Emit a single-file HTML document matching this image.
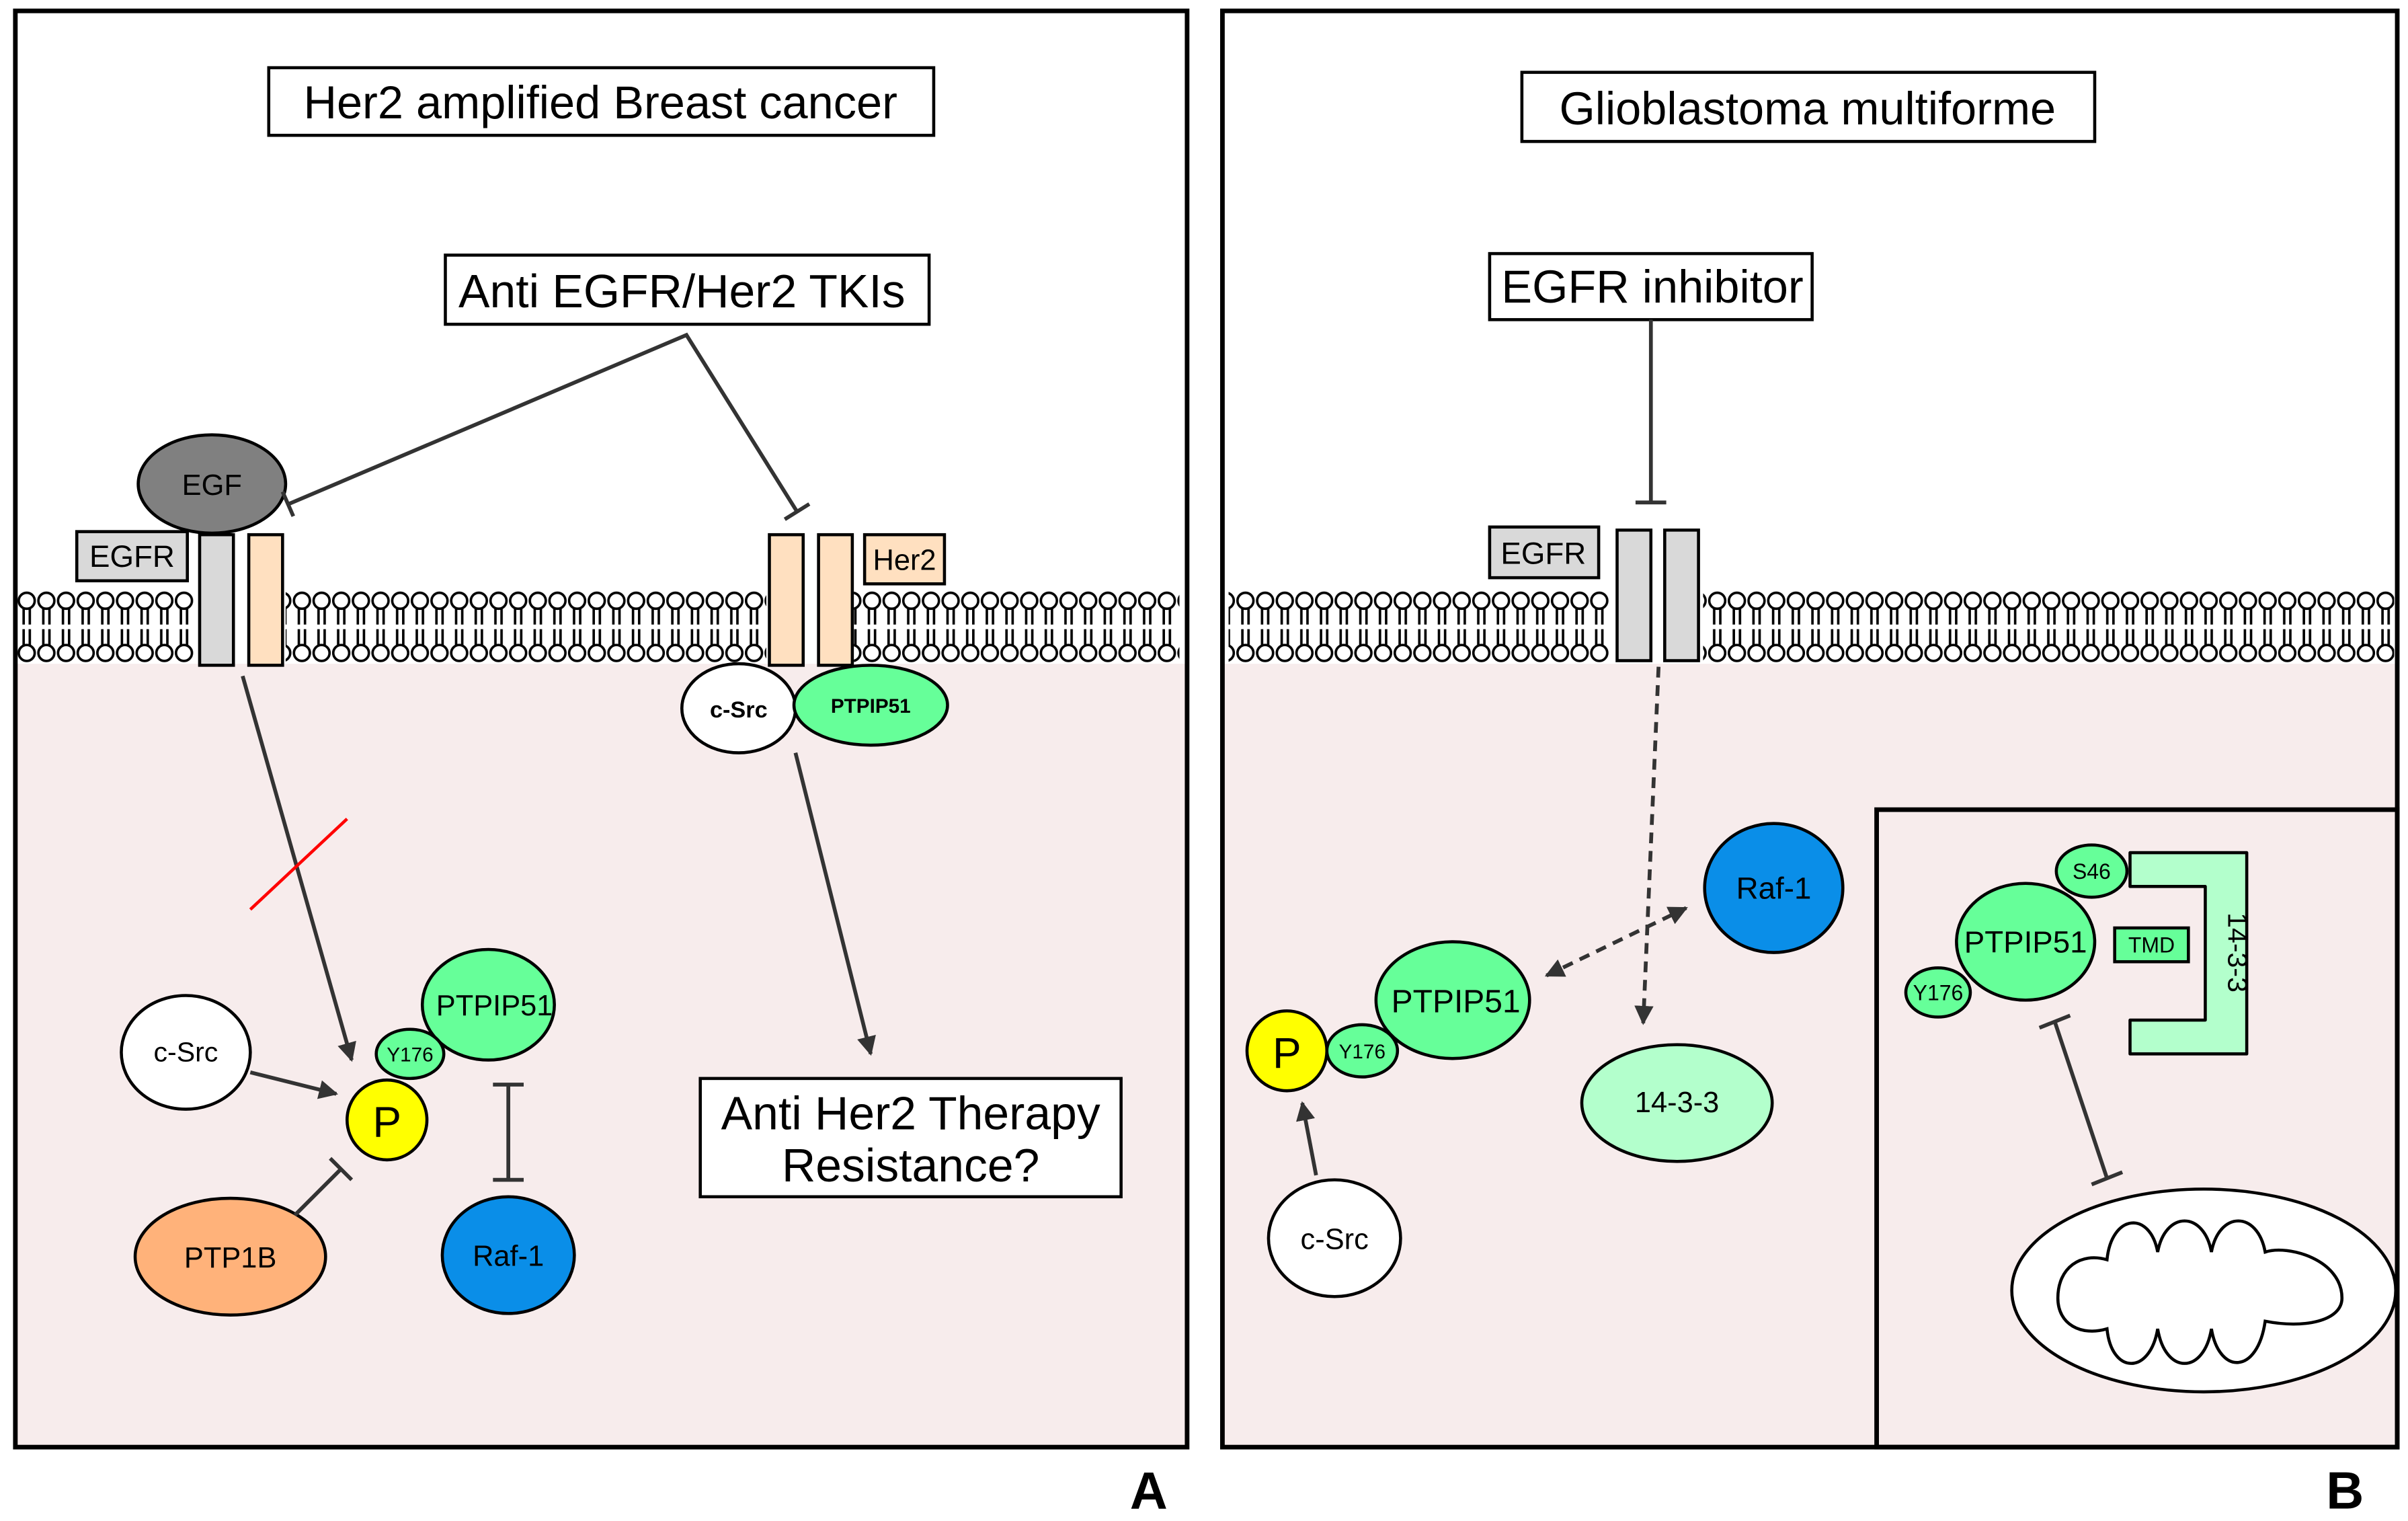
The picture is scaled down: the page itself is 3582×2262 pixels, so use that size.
<!DOCTYPE html><html><head><style>html,body{margin:0;padding:0;background:#fff}svg{display:block}</style></head><body>
<svg width="3582" height="2262" viewBox="0 0 1568 990" xmlns="http://www.w3.org/2000/svg" font-family="Liberation Sans, sans-serif">
<defs>
<marker id="ar" viewBox="0 0 10 10" refX="9" refY="5" markerWidth="5" markerHeight="5" orient="auto-start-reverse"><path d="M0,0L10,5L0,10z" fill="#333"/></marker>
<pattern id="lip" x="11" y="0" width="12.8" height="990" patternUnits="userSpaceOnUse">
<g stroke="#000" stroke-width="1.6" fill="#fff">
<line x1="4.4" y1="396" x2="4.4" y2="406.5"/><line x1="8.4" y1="396" x2="8.4" y2="406.5"/>
<line x1="4.4" y1="409.5" x2="4.4" y2="420"/><line x1="8.4" y1="409.5" x2="8.4" y2="420"/>
<circle cx="6.4" cy="391" r="5.2"/><circle cx="6.4" cy="425" r="5.2"/>
</g></pattern>
</defs>
<rect width="1568" height="990" fill="#fff"/>
<rect x="10" y="432" width="763" height="510" fill="#f7ecec"/>
<rect x="796" y="432" width="765" height="510" fill="#f7ecec"/>
<rect x="11" y="384" width="115" height="48" fill="url(#lip)"/>
<rect x="186" y="384" width="313" height="48" fill="url(#lip)"/>
<rect x="556" y="384" width="212" height="48" fill="url(#lip)"/>
<rect x="800" y="384" width="248" height="48" fill="url(#lip)"/>
<rect x="1109" y="384" width="450" height="48" fill="url(#lip)"/>
<rect x="10" y="7" width="763" height="935" fill="none" stroke="#000" stroke-width="3"/>
<rect x="796" y="7" width="765" height="935" fill="none" stroke="#000" stroke-width="3"/>
<rect x="1222" y="527" width="339" height="415" fill="none" stroke="#000" stroke-width="3"/>
<g stroke="#000" stroke-width="2">
<rect x="175" y="44" width="433" height="44" fill="#fff"/>
<rect x="290" y="166" width="315" height="45" fill="#fff"/>
<rect x="50" y="346" width="72" height="32" fill="#d9d9d9"/>
<rect x="130" y="348" width="22" height="85" fill="#d9d9d9"/>
<rect x="162" y="348" width="22" height="85" fill="#ffe0c0"/>
<rect x="501" y="348" width="22" height="85" fill="#ffe0c0"/>
<rect x="533" y="348" width="22" height="85" fill="#ffe0c0"/>
<rect x="563" y="348" width="52" height="32" fill="#ffe0c0"/>
<ellipse cx="138" cy="315" rx="48" ry="32" fill="#808080"/>
<ellipse cx="481" cy="461" rx="37" ry="29" fill="#fff"/>
<ellipse cx="567" cy="459" rx="50" ry="26" fill="#66ff99"/>
<rect x="456" y="702" width="274" height="77" fill="#fff"/>
<ellipse cx="121" cy="685" rx="42" ry="37" fill="#fff"/>
<ellipse cx="318" cy="654" rx="43" ry="36" fill="#66ff99"/>
<ellipse cx="267" cy="686" rx="22" ry="16" fill="#66ff99"/>
<circle cx="252" cy="729" r="26" fill="#ffff00"/>
<ellipse cx="331" cy="817" rx="43" ry="38" fill="#0a8ee8"/>
<ellipse cx="150" cy="818" rx="62" ry="38" fill="#ffb27a"/>
<rect x="991" y="47" width="373" height="45" fill="#fff"/>
<rect x="970" y="165" width="210" height="43" fill="#fff"/>
<rect x="970" y="343" width="71" height="33" fill="#d9d9d9"/>
<rect x="1053" y="345" width="22" height="85" fill="#d9d9d9"/>
<rect x="1084" y="345" width="22" height="85" fill="#d9d9d9"/>
<ellipse cx="1155" cy="578" rx="45" ry="42" fill="#0a8ee8"/>
<ellipse cx="946" cy="651" rx="50" ry="38" fill="#66ff99"/>
<ellipse cx="887" cy="684" rx="23" ry="17" fill="#66ff99"/>
<circle cx="838" cy="684" r="26" fill="#ffff00"/>
<ellipse cx="869" cy="806" rx="43" ry="38" fill="#fff"/>
<ellipse cx="1092" cy="718" rx="62" ry="38" fill="#b3ffcc"/>
<path d="M1387,555H1463V686H1387V664H1436V577H1387Z" fill="#b3ffcc" stroke-linejoin="round"/>
<ellipse cx="1319" cy="613" rx="45" ry="38" fill="#66ff99"/>
<ellipse cx="1362" cy="567" rx="23" ry="17" fill="#66ff99"/>
<ellipse cx="1262" cy="646" rx="21" ry="16" fill="#66ff99"/>
<rect x="1377" y="604" width="48" height="22" fill="#66ff99"/>
<ellipse cx="1435" cy="840" rx="125" ry="66" fill="#fff"/>
<path d="M1340,845 C1340,825 1355,815 1372,820 C1375,790 1400,788 1405,815 C1410,788 1435,788 1440,815 C1445,788 1470,788 1475,815 C1490,810 1525,820 1525,845 C1525,860 1500,865 1475,860 C1470,895 1445,895 1440,865 C1435,895 1410,895 1405,865 C1400,895 1375,895 1372,865 C1355,870 1340,862 1340,845Z" fill="#fff"/>
</g>
<g stroke="#333" stroke-width="2.5" fill="none">
<polyline points="188,328 447,218 519,333"/>
<line x1="184" y1="320" x2="191" y2="336"/>
<line x1="511" y1="338" x2="527" y2="328"/>
<line x1="518" y1="490" x2="567" y2="686" marker-end="url(#ar)"/>
<line x1="158" y1="440" x2="229" y2="690" marker-end="url(#ar)"/>
<line x1="163" y1="698" x2="219" y2="712" marker-end="url(#ar)"/>
<line x1="331" y1="706" x2="331" y2="768"/>
<line x1="321" y1="706" x2="341" y2="706"/><line x1="321" y1="768" x2="341" y2="768"/>
<line x1="192" y1="791" x2="222" y2="761"/>
<line x1="215" y1="754" x2="229" y2="768"/>
<line x1="1075" y1="208" x2="1075" y2="327"/>
<line x1="1065" y1="327" x2="1085" y2="327"/>
<line x1="1080" y1="434" x2="1070" y2="666" stroke-dasharray="7,5" marker-end="url(#ar)"/>
<line x1="1007" y1="635" x2="1098" y2="591" stroke-dasharray="7,5" marker-start="url(#ar)" marker-end="url(#ar)"/>
<line x1="857" y1="765" x2="848" y2="718" marker-end="url(#ar)"/>
<line x1="1338" y1="665" x2="1372" y2="767"/>
<line x1="1328" y1="669" x2="1348" y2="661"/><line x1="1362" y1="771" x2="1382" y2="763"/>
</g>
<line x1="163" y1="592" x2="226" y2="533" stroke="#ff0000" stroke-width="2"/>
<g text-anchor="middle" fill="#000">
<text x="391" y="77" font-size="30">Her2 amplified Breast cancer</text>
<text x="444" y="200" font-size="30.5">Anti EGFR/Her2 TKIs</text>
<text x="138" y="322" font-size="19">EGF</text>
<text x="86" y="369" font-size="20">EGFR</text>
<text x="589" y="371" font-size="19">Her2</text>
<text x="481" y="467" font-size="15" font-weight="bold">c-Src</text>
<text x="567" y="464" font-size="13" font-weight="bold">PTPIP51</text>
<text x="593" y="735" font-size="30.5">Anti Her2 Therapy</text>
<text x="593" y="769" font-size="30.5">Resistance?</text>
<text x="121" y="691" font-size="18">c-Src</text>
<text x="322" y="661" font-size="19">PTPIP51</text>
<text x="267" y="691" font-size="13">Y176</text>
<text x="252" y="740" font-size="28">P</text>
<text x="331" y="824" font-size="19">Raf-1</text>
<text x="150" y="825" font-size="19">PTP1B</text>
<text x="748" y="982" font-size="34" font-weight="bold">A</text>
<text x="1177" y="81" font-size="30">Glioblastoma multiforme</text>
<text x="1076" y="197" font-size="30">EGFR inhibitor</text>
<text x="1005" y="367" font-size="20">EGFR</text>
<text x="1155" y="585" font-size="20">Raf-1</text>
<text x="948" y="659" font-size="21">PTPIP51</text>
<text x="887" y="689" font-size="13">Y176</text>
<text x="838" y="695" font-size="28">P</text>
<text x="869" y="813" font-size="19">c-Src</text>
<text x="1092" y="724" font-size="19">14-3-3</text>
<text x="1319" y="620" font-size="20">PTPIP51</text>
<text x="1362" y="572" font-size="14">S46</text>
<text x="1262" y="651" font-size="14">Y176</text>
<text x="1401" y="620" font-size="14">TMD</text>
<text x="1450" y="620" font-size="18" transform="rotate(90 1450 620)" dy="-1">14-3-3</text>
<text x="1527" y="982" font-size="34" font-weight="bold">B</text>
</g>
</svg>
</body></html>
